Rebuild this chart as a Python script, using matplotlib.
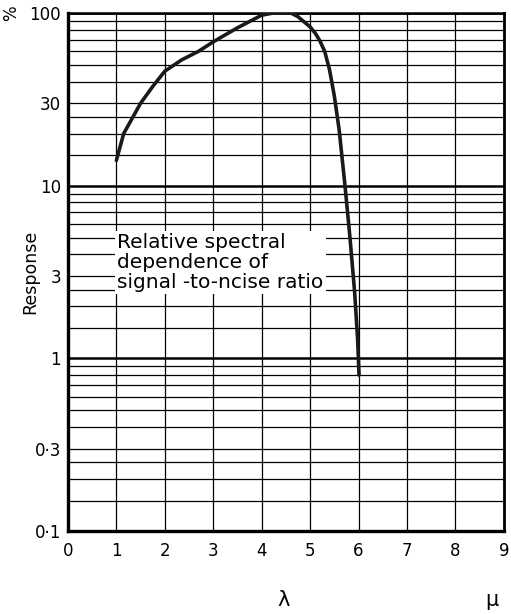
import matplotlib
matplotlib.use("Agg")
import matplotlib.pyplot as plt
import numpy as np

# curve (wavelength in micron, response in %)
wavelength = [1.0, 1.15, 1.5, 1.75, 2.0, 2.35, 2.7, 3.0, 3.5, 4.0, 4.25, 4.45, 4.6,
              4.75, 4.87, 5.0, 5.11, 5.2, 5.3, 5.4, 5.5, 5.6, 5.72, 5.82, 5.92,
              5.98, 6.01]
response = [14, 20, 30, 37.5, 46, 53.5, 60, 68, 82, 97, 100, 100.5, 100,
            95, 89, 83, 76, 69, 60, 47, 33, 21, 10, 5.1, 2.4,
            1.3, 0.8]

x_ticks = [0, 1, 2, 3, 4, 5, 6, 7, 8, 9]
y_major = [0.1, 1, 10, 100]
y_major_labels = ["0·1", "1", "10", "100"]
mults = [1.5, 2, 2.5, 3, 4, 5, 6, 7, 8, 9]
y_minor = [m * d for d in [0.1, 1, 10] for m in mults]
y_minor_labels = {0.3: "0·3", 3: "3", 30: "30"}

note = "Relative spectral\ndependence of\nsignal -to-ncise ratio"

plt.rcParams['font.family'] = ['DejaVu Sans']

fig = plt.figure(figsize=(5.11, 6.14), dpi=100)
ax = fig.add_axes([0.133, 0.135, 0.853, 0.844])

ax.plot(wavelength, response, color='#1a1a1a', lw=2.6, solid_capstyle='round', zorder=5)

ax.set_yscale('log')
ax.set_xlim(0, 9)
ax.set_ylim(0.1, 100)

ax.set_xticks(x_ticks)
ax.set_xticklabels([str(v) for v in x_ticks])
ax.set_yticks(y_major, labels=y_major_labels)
ax.set_yticks(y_minor, labels=[y_minor_labels.get(round(v, 3), "") for v in y_minor], minor=True)

ax.tick_params(which='both', length=0, labelsize=12, colors='black')
ax.tick_params(axis='y', which='both', pad=5)
ax.tick_params(axis='x', pad=8)

ax.grid(which='major', axis='y', color='black', lw=1.8)
ax.grid(which='minor', axis='y', color='black', lw=0.9)
ax.grid(which='major', axis='x', color='black', lw=0.9)

for side, w in [('left', 2.4), ('bottom', 2.4), ('top', 1.8), ('right', 2.0)]:
    ax.spines[side].set_linewidth(w)

ax.set_ylabel("Response", fontsize=12.5)
ax.yaxis.set_label_coords(-0.067, 0.5)

ax.text(1.02, 3.6, note, fontsize=14.5, linespacing=1.08, va='center', ha='left',
        zorder=4, bbox=dict(facecolor='white', edgecolor='none', pad=1.5))

fig.text(0.022, 0.978, "%", rotation=90, fontsize=12, ha='center', va='center')
fig.text(0.555, 0.023, "λ", fontsize=15, ha='center', va='center')
fig.text(0.963, 0.023, "μ", fontsize=15, ha='center', va='center')

fig.savefig("out.png", dpi=100)
